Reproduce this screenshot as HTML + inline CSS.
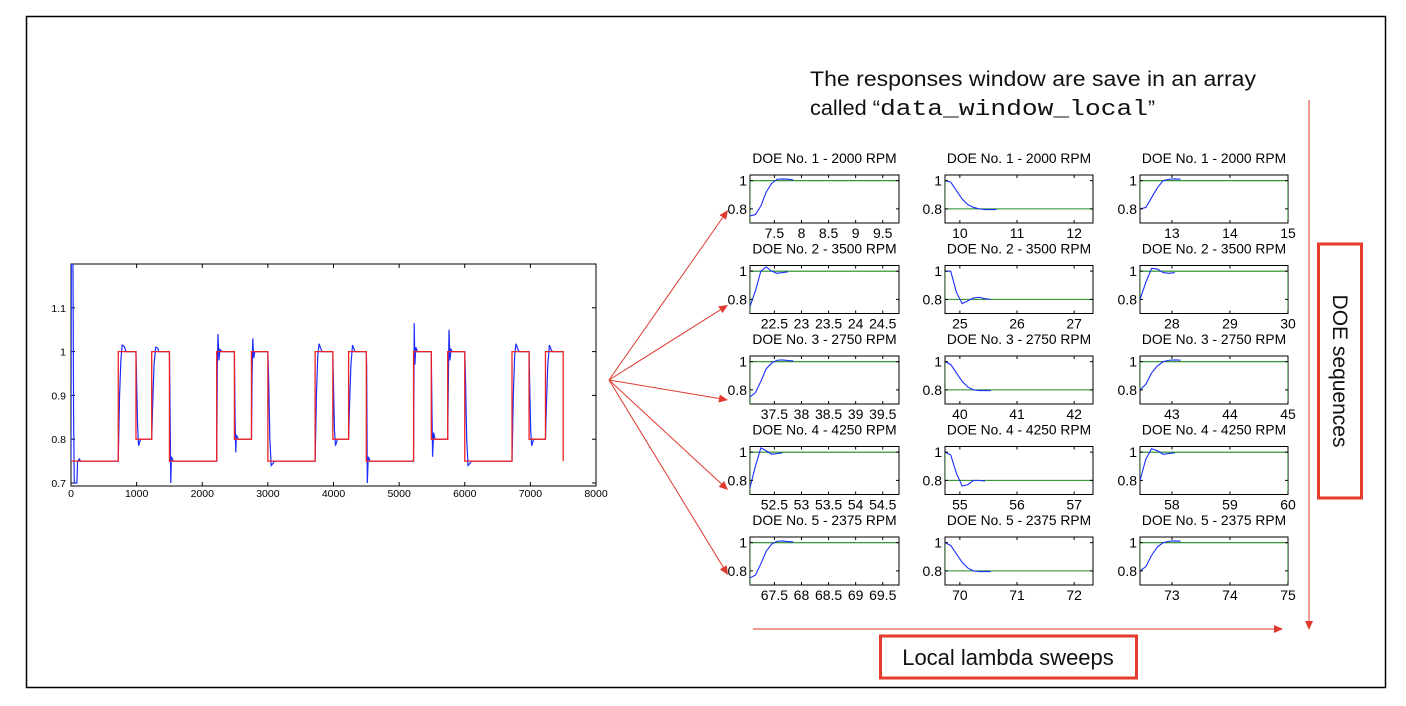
<!DOCTYPE html>
<html><head><meta charset="utf-8">
<style>
html,body{margin:0;padding:0;background:#fff;}
svg{display:block;font-family:"Liberation Sans",Arial,sans-serif;}
</style></head>
<body>
<svg id="root" width="1406" height="706" viewBox="0 0 1406 706">
<rect x="26.5" y="16.5" width="1359" height="671" fill="#fff" stroke="#000" stroke-width="1.5"/>
<text x="810" y="86" font-size="21" fill="#111" textLength="446" lengthAdjust="spacingAndGlyphs">The responses window are save in an array</text>
<text x="810" y="115" font-size="21" fill="#111"><tspan textLength="70" lengthAdjust="spacingAndGlyphs">called “</tspan><tspan font-family="'Liberation Mono',monospace" font-size="22" textLength="268" lengthAdjust="spacingAndGlyphs">data_window_local</tspan><tspan>”</tspan></text>
<g id="main"></g>
<g id="grid"></g>
<g id="arrows"></g>
<line x1="753" y1="629" x2="1278" y2="629" stroke="#e03a2e" stroke-width="1"/>
<polygon points="1283,629 1274,625 1274,633" fill="#e03a2e"/>
<line x1="1309" y1="100" x2="1309" y2="624" stroke="#e03a2e" stroke-width="1"/>
<polygon points="1309,630 1305,621 1313,621" fill="#e03a2e"/>
<rect x="1318.5" y="244" width="43" height="254" fill="none" stroke="#e53a2e" stroke-width="3"/>
<text x="0" y="0" font-size="21" fill="#111" text-anchor="middle" transform="translate(1333,371) rotate(90)">DOE sequences</text>
<rect x="880.5" y="636" width="256" height="42" fill="none" stroke="#e53a2e" stroke-width="3"/>
<text x="1008" y="665" font-size="22" fill="#111" text-anchor="middle">Local lambda sweeps</text>
</svg>
<script>
// ---- main chart data ----
const mainXTicks = [0,1000,2000,3000,4000,5000,6000,7000,8000];
const mainYTicks = [0.7,0.8,0.9,1,1.1];
const refT = [0,720,720,990,990,1230,1230,1500,1500,2220,2220,2490,2490,2750,2750,3000,3000,3720,3720,3990,3990,4230,4230,4500,4500,5220,5220,5490,5490,5740,5740,6000,6000,6720,6720,6980,6980,7230,7230,7500,7500];
const refV = [0.75,0.75,1,1,0.8,0.8,1,1,0.75,0.75,1,1,0.8,0.8,1,1,0.75,0.75,1,1,0.8,0.8,1,1,0.75,0.75,1,1,0.8,0.8,1,1,0.75,0.75,1,1,0.8,0.8,1,1,0.75];
const respT = [0,5,30,40,50,90,100,130,140,720,740,760,780,810,840,990,1000,1015,1030,1060,1230,1245,1265,1290,1320,1340,1500,1510,1520,1530,1560,2220,2230,2240,2255,2270,2300,2490,2500,2510,2520,2550,2750,2760,2770,2785,2800,3000,3010,3030,3050,3080,3100,3720,3740,3760,3780,3810,3830,3990,4000,4015,4030,4060,4230,4245,4265,4290,4320,4330,4500,4505,4515,4530,4560,5220,5230,5240,5255,5280,5490,5500,5510,5525,5550,5740,5750,5760,5775,5790,5810,6000,6010,6030,6050,6080,6100,6720,6740,6760,6780,6810,6830,6980,6990,7005,7020,7050,7230,7245,7265,7290,7320,7340,7500];
const respV = [0.75,1.2,1.2,0.84,0.7,0.7,0.75,0.755,0.75,0.75,0.9,0.98,1.015,1.012,1.0,1.0,0.93,0.83,0.785,0.8,0.8,0.88,0.97,1.01,1.008,1.0,1.0,0.86,0.7,0.76,0.75,0.75,0.97,1.04,0.98,1.005,1.0,1.0,0.85,0.77,0.81,0.8,0.8,0.95,1.03,0.985,1.0,1.0,0.95,0.8,0.74,0.745,0.75,0.75,0.9,0.99,1.018,1.005,1.0,1.0,0.92,0.82,0.785,0.8,0.8,0.88,0.97,1.015,1.003,1.0,1.0,0.97,0.7,0.76,0.75,0.75,1.065,0.97,1.01,1.0,1.0,0.87,0.76,0.815,0.8,0.8,0.93,1.05,0.98,1.005,1.0,1.0,0.95,0.8,0.74,0.745,0.75,0.75,0.9,0.99,1.018,1.005,1.0,1.0,0.92,0.82,0.785,0.8,0.8,0.88,0.97,1.015,1.003,1.0,1.0];

// ---- subplot data ----
const rpms = [2000,3500,2750,4250,2375];
const colStart = [7.05,9.74,12.45];
const colEnd = [9.8,12.33,15];
const colTicks = [[7.5,8,8.5,9,9.5],[10,11,12],[13,14,15]];
const rowOffset = [0,15,30,45,60];
const subYTicks = [0.8,1];
const sampleT = [0,0.1,0.2,0.3,0.4,0.5,0.6,0.7,0.8,0.9];
const setpointFrom = [0.7,1,0.8];
const setpointTo = [1,0.8,1];
const subResp = [
 [[0.75,0.76,0.82,0.92,0.98,1.01,1.012,1.01,1.005],[1,0.99,0.93,0.87,0.83,0.81,0.8,0.795,0.795,0.795],[0.8,0.81,0.88,0.95,1.0,1.01,1.012,1.01]],
 [[0.75,0.86,1.0,1.03,1.0,0.985,0.99,0.995],[1,1,0.85,0.77,0.79,0.81,0.815,0.805,0.8],[0.8,0.92,1.02,1.015,0.99,0.985,0.99]],
 [[0.75,0.78,0.86,0.95,0.99,1.01,1.012,1.008,1.005],[1,0.98,0.92,0.86,0.82,0.8,0.795,0.795,0.795],[0.8,0.84,0.92,0.97,1.0,1.01,1.012,1.01]],
 [[0.75,0.9,1.03,1.01,0.985,0.99,0.995],[1,0.98,0.85,0.76,0.77,0.8,0.8,0.795],[0.8,0.95,1.025,1.01,0.985,0.99,0.995]],
 [[0.75,0.77,0.85,0.94,0.99,1.01,1.012,1.008,1.005],[1,0.98,0.92,0.86,0.82,0.8,0.795,0.795,0.795],[0.8,0.83,0.91,0.97,1.0,1.01,1.012,1.01]]
];

const NS = "http://www.w3.org/2000/svg";
function mk(tag, attrs, parent){ const e=document.createElementNS(NS,tag); for(const k in attrs) e.setAttribute(k,attrs[k]); parent.appendChild(e); return e; }

// ---- main chart ----
(function(){
 const g=document.getElementById('main');
 const L=71,R=596,T=264,B=483;
 const sx=t=>L+(t-0)/8000*(R-L);
 const sy=v=>B-(v-0.7)/0.5*(B-T);
 const frame=mk('rect',{x:L,y:T,width:R-L,height:B-T+3,fill:'#fff',stroke:'#000','stroke-width':1},g);
 
 
 const clip=mk('clipPath',{id:'mclip'},g); mk('rect',{x:L,y:T,width:R-L,height:B-T+3},clip);
 mainXTicks.forEach(t=>{
  const x=sx(t);
  mk('line',{x1:x,y1:B+3,x2:x,y2:B-1,stroke:'#000'},g);
  mk('line',{x1:x,y1:T,x2:x,y2:T+4,stroke:'#000'},g);
  const tx=mk('text',{x:x,y:B+14,'font-size':10.5,'text-anchor':'middle',fill:'#000'},g);
  tx.textContent=t;
  
  
 });
 mainYTicks.forEach(v=>{
  const y=sy(v);
  mk('line',{x1:L,y1:y,x2:L+4,y2:y,stroke:'#000'},g);
  mk('line',{x1:R,y1:y,x2:R-4,y2:y,stroke:'#000'},g);
  const ty=mk('text',{x:L-5,y:y+4,'font-size':10.5,'text-anchor':'end',fill:'#000'},g);
  ty.textContent=v;
  
  
 });
 const pb=mk('polyline',{points:respT.map((t,i)=>sx(t)+','+sy(respV[i])).join(' '),fill:'none',stroke:'#1a2cff','stroke-width':1.2,'clip-path':'url(#mclip)'},g);
 
 
 const pr=mk('polyline',{points:refT.map((t,i)=>sx(t)+','+sy(refV[i])).join(' '),fill:'none',stroke:'#ee2222','stroke-width':1.3,'clip-path':'url(#mclip)'},g);
 
 
})();

// ---- subplots ----
(function(){
 const g=document.getElementById('grid');
 const colL=[750,945,1140], colR=[899,1093,1288];
 const top0=175, pitch=90.5, h=48;
 const y0=0.7,y1=1.04;
 for(let r=0;r<5;r++){
  for(let c=0;c<3;c++){
   const L=colL[c],R=colR[c],T=top0+r*pitch,B=T+h;
   const xa=colStart[c]+rowOffset[r], xb=colEnd[c]+rowOffset[r];
   const sx=x=>L+(x-xa)/(xb-xa)*(R-L);
   const sy=v=>B-(v-y0)/(y1-y0)*(B-T);
   const sg=mk('g',{},g);
   
   
   const title=mk('text',{x:(L+R)/2,y:T-12,'font-size':13.8,'text-anchor':'middle',fill:'#000'},sg);
   title.textContent='DOE No. '+(r+1)+' - '+rpms[r]+' RPM';
   
   
   mk('rect',{x:L,y:T,width:R-L,height:h,fill:'#fff',stroke:'#000','stroke-width':1},sg);
   const cid='sc'+r+c;
   const cp=mk('clipPath',{id:cid},sg); mk('rect',{x:L,y:T,width:R-L,height:h},cp);
   const gp=[[xa,setpointFrom[c]],[xa,setpointTo[c]],[xb,setpointTo[c]]];
   if(c===2) gp.push([xb,0.7]);
   const gl=mk('polyline',{points:gp.map(p=>sx(p[0])+','+sy(p[1])).join(' '),fill:'none',stroke:'#1e8a1e','stroke-width':1.1,'clip-path':'url(#'+cid+')'},sg);
   
   
   const vals=subResp[r][c];
   const bl=mk('polyline',{points:vals.map((v,i)=>sx(xa+sampleT[i])+','+sy(v)).join(' '),fill:'none',stroke:'#1a2cff','stroke-width':1.1,'clip-path':'url(#'+cid+')'},sg);
   
   
   subYTicks.forEach(v=>{
    const y=sy(v);
    mk('line',{x1:L,y1:y,x2:L+3,y2:y,stroke:'#000'},sg);
    mk('line',{x1:R,y1:y,x2:R-3,y2:y,stroke:'#000'},sg);
    const t=mk('text',{x:L-3,y:y+5,'font-size':14,'text-anchor':'end',fill:'#000'},sg);
    t.textContent=v;
    
    
   });
   colTicks[c].forEach(tv=>{
    const v=tv+rowOffset[r];
    const x=sx(v);
    mk('line',{x1:x,y1:B,x2:x,y2:B-3,stroke:'#000'},sg);
    mk('line',{x1:x,y1:T,x2:x,y2:T+3,stroke:'#000'},sg);
    const t=mk('text',{x:x,y:B+15,'font-size':14,'text-anchor':'middle',fill:'#000'},sg);
    t.textContent=String(v);
    
    
   });
  }
 }
})();

// ---- arrows ----
(function(){
 const g=document.getElementById('arrows');
 const sx0=609, sy0=380;
 const targets=[[728,210],[728,305],[728,400],[728,490],[728,575]];
 targets.forEach((p,i)=>{
  const dx=p[0]-sx0, dy=p[1]-sy0, len=Math.hypot(dx,dy), ux=dx/len, uy=dy/len;
  const bx=p[0]-ux*9, by=p[1]-uy*9;
  const l=mk('line',{x1:sx0,y1:sy0,x2:bx,y2:by,stroke:'#e03a2e','stroke-width':1},g);
  
  
  const hd=mk('polygon',{points:p[0]+','+p[1]+' '+(bx-uy*4)+','+(by+ux*4)+' '+(bx+uy*4)+','+(by-ux*4),fill:'#e03a2e'},g);
  
  
 });
})();
</script>
</body></html>
